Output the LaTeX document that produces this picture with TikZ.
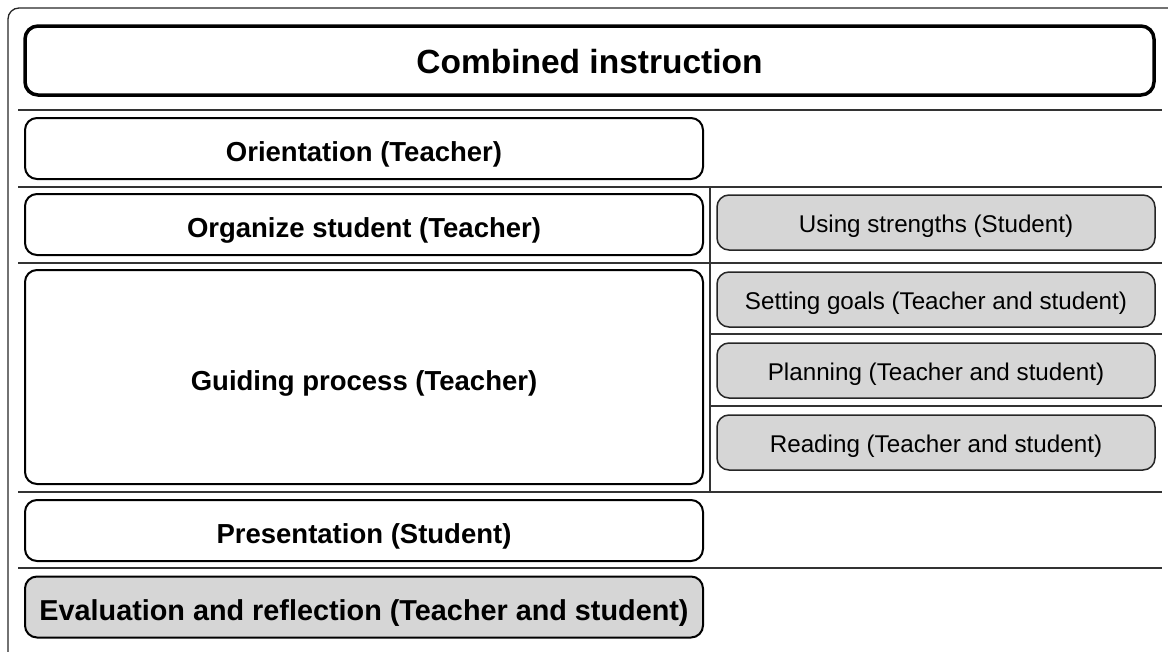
\documentclass[tikz,border=0pt]{standalone}
\usepackage{fontspec}
\setmainfont{Liberation Sans}
\begin{document}
\begin{tikzpicture}[x=1pt,y=-1pt,
  frame/.style={draw=black!85, line width=1.3pt, rounded corners=11pt},
  headbox/.style={draw=black, line width=3.5pt, rounded corners=13pt, inner sep=0pt,
    text height=25pt, text depth=0pt,
    font=\fontsize{33.5}{40}\selectfont\bfseries},
  phase/.style={draw=black, line width=2pt, rounded corners=12pt, fill=white, inner sep=0pt,
    minimum width=678pt, minimum height=61pt, text height=26.6pt, text depth=0pt,
    font=\fontsize{27.5}{33}\selectfont\bfseries},
  shared/.style={phase, fill=gray!32, text height=27pt, font=\fontsize{28.8}{34}\selectfont\bfseries},
  activity/.style={draw=black!85, line width=1.5pt, rounded corners=12pt, fill=gray!32, inner sep=0pt,
    minimum width=438pt, minimum height=55pt, text height=19.8pt, text depth=0pt,
    font=\fontsize{24.2}{29}\selectfont},
  divider/.style={draw=black!80, line width=2pt}
]
\useasboundingbox (0,0) rectangle (1168,651);
\clip (0,0) rectangle (1168,651);

% outer frame (continues past the right and lower edges)
\draw[frame] (8,8) rectangle (1185,670);

% title
\node[headbox, minimum width=1129pt, minimum height=69pt] (head) at (589.5,60.5) {Combined instruction};

% row dividers
\draw[divider] (18,110) -- (1162,110);
\draw[divider] (18,187) -- (1162,187);
\draw[divider] (18,263) -- (1162,263);
\draw[divider] (18,492) -- (1162,492);
\draw[divider] (18,568) -- (1162,568);
\draw[divider] (710,334) -- (1162,334);
\draw[divider] (710,406) -- (1162,406);
\draw[divider] (710,187) -- (710,492);

% phases
\node[phase] (orient) at (364,148.5) {Orientation (Teacher)};
\node[phase] (organize) at (364,224.5) {Organize student (Teacher)};
\node[phase, minimum height=214pt] (guide) at (364,377) {Guiding process (Teacher)};
\node[phase] (present) at (364,530.5) {Presentation (Student)};
\node[shared] (eval) at (364,607) {Evaluation and reflection (Teacher and student)};

% student activities
\node[activity] (strengths) at (936,222.5) {Using strengths (Student)};
\node[activity] (goals) at (936,299.5) {Setting goals (Teacher and student)};
\node[activity] (plan) at (936,370.5) {Planning (Teacher and student)};
\node[activity] (read) at (936,442.5) {Reading (Teacher and student)};
\end{tikzpicture}
\end{document}
